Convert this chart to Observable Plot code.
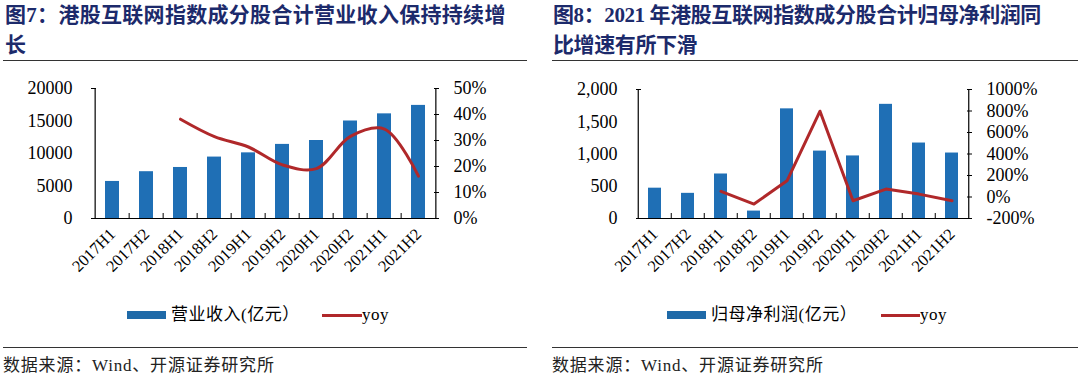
<!DOCTYPE html>
<html><head><meta charset="utf-8">
<script src="https://cdn.jsdelivr.net/npm/d3@7"></script>
<script src="https://cdn.jsdelivr.net/npm/@observablehq/plot@0.6"></script>
<style>
body{margin:0;background:#fff;}
#root{position:relative;width:1080px;height:378px;overflow:hidden;font-family:"Liberation Serif","Noto Sans CJK SC",serif;color:#000;}
.title{position:absolute;top:0;font-family:"Liberation Serif","Noto Sans CJK SC",serif;font-weight:700;font-size:21px;line-height:30px;color:#1c2a6b;white-space:nowrap;}
.rule{position:absolute;height:0;border-top:1.5px solid #333;}
.chart{position:absolute;top:62px;}
.lg{position:absolute;white-space:nowrap;font-size:17px;line-height:20px;letter-spacing:0.5px;}
.sw{position:absolute;}
.src{position:absolute;top:355px;font-size:17px;line-height:22px;color:#222;white-space:nowrap;letter-spacing:0.8px;}
</style></head>
<body><div id="root">
<div class="title" style="left:5px;letter-spacing:0.3px">图7：港股互联网指数成分股合计营业收入保持持续增<br>长</div>
<div class="title" style="left:553px;letter-spacing:-0.4px">图8：2021 年港股互联网指数成分股合计归母净利润同<br>比增速有所下滑</div>
<div class="rule" style="left:3px;width:524px;top:60px"></div>
<div class="rule" style="left:552px;width:526px;top:60px"></div>
<div id="c1" class="chart" style="left:0px"></div>
<div id="c2" class="chart" style="left:540px"></div>
<div class="sw" style="left:127px;top:311px;width:39px;height:8px;background:#1f6aa8"></div>
<div class="lg" style="left:171px;top:305px">营业收入(亿元）</div>
<div class="sw" style="left:322px;top:314px;width:40px;height:3px;background:#b0282a"></div>
<div class="lg" style="left:362px;top:305px">yoy</div>
<div class="sw" style="left:667px;top:311px;width:39px;height:8px;background:#1f6aa8"></div>
<div class="lg" style="left:711px;top:305px">归母净利润(亿元）</div>
<div class="sw" style="left:881px;top:314px;width:39px;height:3px;background:#b0282a"></div>
<div class="lg" style="left:920px;top:305px">yoy</div>
<div class="rule" style="left:3px;width:524px;top:347px"></div>
<div class="rule" style="left:552px;width:526px;top:347px"></div>
<div class="src" style="left:3px">数据来源：Wind、开源证券研究所</div>
<div class="src" style="left:552px">数据来源：Wind、开源证券研究所</div>
</div>
<script>
const categories = ["2017H1","2017H2","2018H1","2018H2","2019H1","2019H2","2020H1","2020H2","2021H1","2021H2"];
const revenue = [5700, 7200, 7850, 9450, 10100, 11400, 12000, 15000, 16100, 17400];
const revenueYoy = [null, null, 38.2, 31.5, 27.5, 20.6, 19.2, 31.6, 34.4, 16.3];
const revenueTicksLeft = [0, 5000, 10000, 15000, 20000];
const revenueTicksRight = [0, 10, 20, 30, 40, 50];
const profit = [470, 390, 690, 115, 1700, 1045, 970, 1770, 1170, 1015];
const profitYoy = [null, null, 52, -66, 151, 798, -35, 74, 27, -35];
const profitTicksLeft = [0, 500, 1000, 1500, 2000];
const profitTicksRight = [-200, 0, 200, 400, 600, 800, 1000];

const BLUE = "#1f6fb5", RED = "#b0282a";

function dualChart({values, yoy, leftTicks, rightTicks, leftFormat, width, marginLeft, marginRight, marginTop, curve}) {
  const height = 230, marginBottom = 74;
  const lMax = leftTicks[leftTicks.length - 1];
  const rMin = rightTicks[0], rMax = rightTicks[rightTicks.length - 1];
  const toLeft = p => (p - rMin) / (rMax - rMin) * lMax;
  const rows = categories.map((c, i) => ({cat: c, v: values[i], yoy: yoy[i]}));
  const step = (width - marginLeft - marginRight) / categories.length;
  const first = categories[0], last = categories[categories.length - 1];
  return Plot.plot({
    width, height, marginLeft, marginRight, marginTop, marginBottom,
    style: {fontFamily: '"Liberation Serif", serif', fontSize: "18px", color: "#000", background: "transparent", overflow: "visible"},
    x: {domain: categories, paddingInner: 0.6, paddingOuter: 0.3, axis: null, label: null},
    y: {domain: [0, lMax], axis: null, label: null},
    marks: [
      Plot.barY(rows, {x: "cat", y: "v", fill: BLUE}),
      Plot.line(rows.filter(d => d.yoy != null), {x: "cat", y: d => toLeft(d.yoy), stroke: RED, strokeWidth: 3, curve}),
      Plot.ruleY([0], {stroke: "#000", strokeWidth: 1.2}),
      Plot.ruleX([first], {y1: 0, y2: lMax, dx: -step / 2, stroke: "#000", strokeWidth: 1.2}),
      Plot.ruleX([last], {y1: 0, y2: lMax, dx: step / 2, stroke: "#000", strokeWidth: 1.2}),
      Plot.axisY({anchor: "left", ticks: leftTicks, tickFormat: leftFormat, tickSize: 0, tickPadding: 19, fontSize: 18, label: null}),
      Plot.axisY({anchor: "left", ticks: [lMax], tickSize: -5, text: null, label: null}),
      Plot.axisY({anchor: "right", ticks: rightTicks.map(toLeft), tickFormat: v => Math.round(v / lMax * (rMax - rMin) + rMin) + "%", tickSize: -5, tickPadding: 20, fontSize: 18, label: null}),
      Plot.axisX({ticks: categories, tickRotate: -45, tickSize: 0, tickPadding: 13, fontSize: 16.5, label: null}),
      Plot.axisX({ticks: categories.slice(1), tickSize: -5, text: null, dx: -step / 2, label: null})
    ]
  });
}

document.getElementById("c1").append(dualChart({
  values: revenue, yoy: revenueYoy, leftTicks: revenueTicksLeft, rightTicks: revenueTicksRight,
  leftFormat: d3.format("d"), width: 530, marginLeft: 91, marginRight: 92, marginTop: 26, curve: "catmull-rom"
}));
document.getElementById("c2").append(dualChart({
  values: profit, yoy: profitYoy, leftTicks: profitTicksLeft, rightTicks: profitTicksRight,
  leftFormat: d3.format(","), width: 540, marginLeft: 96, marginRight: 109, marginTop: 27, curve: "linear"
}));
</script>
</body></html>
